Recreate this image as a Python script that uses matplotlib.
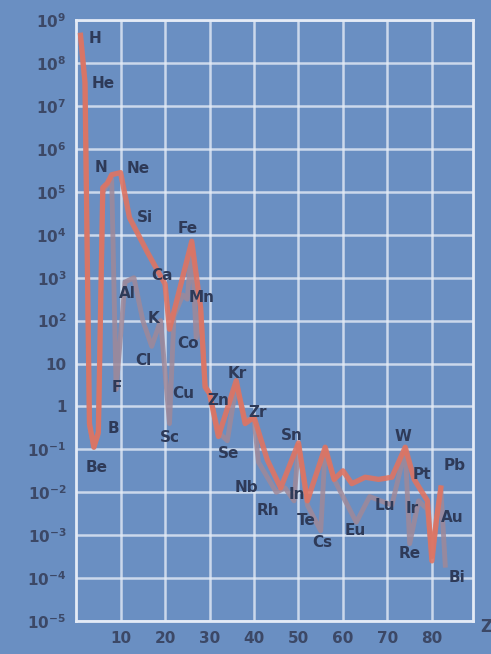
import numpy as np
import matplotlib
matplotlib.use("Agg")
import matplotlib.pyplot as plt

# abundance curves (Z, log10 abundance)
z_sun = [1, 2, 3, 4, 5, 6, 7, 8, 10, 12, 14, 16, 20, 21, 26, 28, 29, 30, 32, 36, 38, 40,
         43, 46, 50, 52, 56, 58, 60, 62, 65, 68, 71, 74, 76, 79, 80, 81, 82]
log_sun = [8.65, 7.55, -0.4, -0.95, -0.6, 5.1, 5.2, 5.4, 5.45, 4.4, 4.0, 3.6, 2.85, 1.8, 3.85, 2.3,
           0.45, 0.3, -0.7, 0.6, -0.4, -0.25, -1.25, -1.9, -0.85, -2.2, -0.95, -1.7, -1.5, -1.8,
           -1.65, -1.7, -1.65, -0.95, -1.7, -2.2, -3.6, -2.65, -1.9]

z_met = [1, 2, 3, 4, 5, 6, 8, 9, 11, 13, 15, 17, 19, 21, 22, 24, 25, 26, 27, 28, 29, 30, 32,
         34, 36, 38, 40, 41, 45, 47, 49, 50, 52, 55, 56, 58, 63, 66, 71, 74, 75, 77, 79, 80, 81, 82, 83]
log_met = [8.6, 7.5, -0.45, -0.95, -0.65, 5.0, 5.3, 0.4, 2.9, 3.0, 2.0, 1.4, 2.0, -0.4, 2.1, 2.6,
           2.5, 3.8, 1.6, 2.3, 0.5, 0.3, -0.6, -0.8, 0.5, -0.3, -0.3, -1.3, -2.0, -1.9, -2.2, -0.9,
           -2.3, -2.9, -1.0, -1.7, -2.7, -2.1, -2.3, -1.0, -3.2, -2.2, -2.4, -3.5, -2.7, -1.9, -3.7]

# element labels and where they sit on the chart
elements = ["H", "He", "N", "Ne", "Si", "Fe", "Al", "Ca", "Mn", "K", "Co", "Cl", "Kr", "F", "Cu",
            "Zn", "Zr", "B", "Sc", "Se", "Sn", "W", "Be", "Pb", "Pt", "Nb", "Rh", "In", "Te",
            "Lu", "Ir", "Au", "Eu", "Cs", "Re", "Bi"]
lab_z = [4.3, 6.1, 5.6, 13.9, 15.5, 25.2, 11.5, 19.3, 28.3, 17.3, 25.2, 15.1, 36.2, 9.2, 24.0,
         31.9, 40.9, 8.3, 21.1, 34.3, 48.5, 73.5, 4.7, 85.0, 77.8, 38.4, 43.1, 49.7, 51.7,
         69.4, 75.5, 84.5, 62.7, 55.3, 75.1, 85.6]
lab_log = [8.58, 7.53, 5.57, 5.55, 4.41, 4.15, 2.64, 3.06, 2.54, 2.05, 1.47, 1.07, 0.77, 0.44,
           0.31, 0.14, -0.14, -0.51, -0.72, -1.09, -0.67, -0.7, -1.42, -1.37, -1.58, -1.89,
           -2.42, -2.05, -2.66, -2.31, -2.38, -2.59, -2.89, -3.17, -3.42, -3.98]

decades = list(range(-5, 10))
xticks = [10, 20, 30, 40, 50, 60, 70, 80]

bg = "#6a8fc2"
txt = "#2e3a58"

fig = plt.figure(figsize=(4.91, 6.54), dpi=100, facecolor=bg)
ax = fig.add_axes([0.155, 0.0505, 0.808, 0.9185], facecolor=bg)

ax.set_yscale("log")
ax.set_xlim(0, 89.2)
ax.set_ylim(1e-5, 1e9)

for d in decades:
    ax.axhline(10.0 ** d, color="#e4ebf6", lw=1.8, alpha=0.8, zorder=1)
for x in xticks:
    ax.axvline(x, color="#e4ebf6", lw=1.8, alpha=0.8, zorder=1)
for s in ax.spines.values():
    s.set_color("#e4ebf6")
    s.set_linewidth(2)

ax.plot(z_met, 10.0 ** np.array(log_met), color="#a08898", lw=3.5, alpha=0.85,
        solid_joinstyle="round", zorder=2)
ax.plot(z_sun, 10.0 ** np.array(log_sun), color="#e2735f", lw=3.8, alpha=0.88,
        solid_joinstyle="round", zorder=3)

for name, zx, ly in zip(elements, lab_z, lab_log):
    ax.text(zx, 10.0 ** ly, name, color=txt, fontsize=11, fontweight="bold",
            ha="center", va="center", zorder=4)

ylabels = []
for d in decades:
    if d == 0:
        ylabels.append("1")
    elif d == 1:
        ylabels.append("10")
    else:
        ylabels.append(r"$\mathbf{10^{%d}}$" % d)
ax.set_yticks([10.0 ** d for d in decades])
ax.set_yticklabels(ylabels)
ax.minorticks_off()
ax.set_xticks(xticks)
ax.set_xticklabels([str(x) for x in xticks])
ax.tick_params(length=0, colors="#3c4866", labelsize=11, pad=7)
for lbl in ax.get_xticklabels() + ax.get_yticklabels():
    lbl.set_fontweight("bold")

fig.text(0.99, 0.033, "Z", color="#3c4866", fontsize=12, fontweight="bold", ha="center")

fig.savefig("out.png", dpi=100, facecolor=bg)
